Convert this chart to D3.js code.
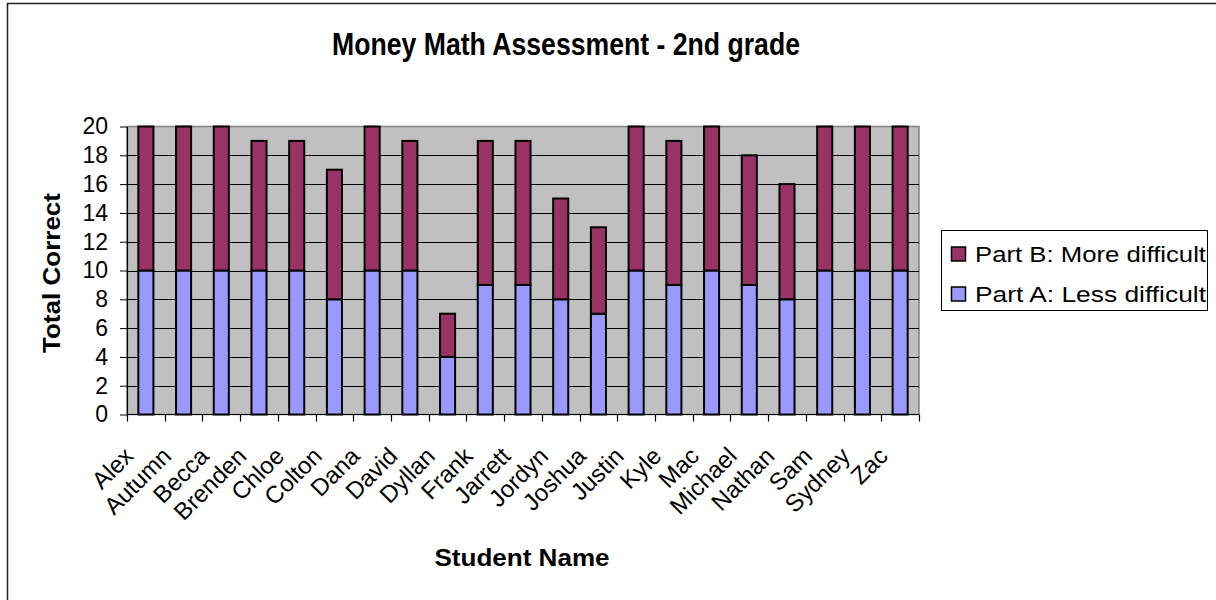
<!DOCTYPE html>
<html><head><meta charset="utf-8">
<script src="https://cdn.jsdelivr.net/npm/d3@7"></script>
<style>html,body{margin:0;padding:0;background:#fff;}svg{display:block;font-family:Arial,"Liberation Sans",sans-serif;}</style>
</head><body>
<svg id="chart" width="1216" height="600"></svg>
<script>
const students = ["Alex","Autumn","Becca","Brenden","Chloe","Colton","Dana","David","Dyllan","Frank","Jarrett","Jordyn","Joshua","Justin","Kyle","Mac","Michael","Nathan","Sam","Sydney","Zac"];
const partA = [10,10,10,10,10,8,10,10,4,9,9,8,7,10,9,10,9,8,10,10,10];
const partB = [10,10,10,9,9,9,10,9,3,10,10,7,6,10,10,10,9,8,10,10,10];
const yTicks = [0,2,4,6,8,10,12,14,16,18,20];
const seriesNames = ["Part A: Less difficult","Part B: More difficult"];
const colors = ["#9999FF","#993366"];

const svg = d3.select("#chart");
// outer chart border
svg.append("rect").attr("x",7.5).attr("y",3.5).attr("width",1300).attr("height",700)
  .attr("fill","#fff").attr("stroke","#222").attr("stroke-width",1.5);

const L=127, R=919, T=126.5, B=414.5;
const x = d3.scaleBand().domain(students).range([L,R]).paddingInner(0.6).paddingOuter(0.3);
const xEdges = d3.scaleBand().domain(students).range([L,R]).padding(0);
const y = d3.scaleLinear().domain([0,20]).range([B,T]);

// plot area
svg.append("rect").attr("x",L).attr("y",T).attr("width",R-L).attr("height",B-T)
  .attr("fill","#C0C0C0").attr("stroke","#808080").attr("stroke-width",1.5);
// gridlines
svg.append("g").selectAll("line").data(yTicks.filter(d=>d>0&&d<20)).join("line")
  .attr("x1",L).attr("x2",R).attr("y1",d=>Math.round(y(d))+0.5).attr("y2",d=>Math.round(y(d))+0.5)
  .attr("stroke","#000").attr("stroke-width",1);

// stacked bars
const stackData = students.map((s,i)=>({name:s,a:partA[i],b:partB[i]}));
const stack = d3.stack().keys(["a","b"])(stackData);
svg.append("g").selectAll("g").data(stack).join("g").attr("fill",(d,i)=>colors[i])
  .selectAll("rect").data(d=>d).join("rect")
  .attr("x",d=>x(d.data.name)).attr("width",x.bandwidth())
  .attr("y",d=>y(d[1])).attr("height",d=>y(d[0])-y(d[1]))
  .attr("stroke","#000").attr("stroke-width",2);

// y axis
const yAxis = svg.append("g").attr("transform",`translate(${L},0)`)
  .call(d3.axisLeft(y).tickValues(yTicks).tickSize(7).tickPadding(12).tickSizeOuter(0));
yAxis.select(".domain").attr("stroke","#000").attr("stroke-width",1.2);
yAxis.selectAll(".tick line").attr("stroke","#000");
yAxis.selectAll("text").attr("font-size",23).attr("font-family","Arial, 'Liberation Sans', sans-serif").attr("fill","#000");

// x axis line + ticks at category boundaries
svg.append("line").attr("x1",L).attr("x2",R).attr("y1",B).attr("y2",B).attr("stroke","#000").attr("stroke-width",1.2);
const edges = students.map(s=>xEdges(s)).concat([R]);
svg.append("g").selectAll("line").data(edges).join("line")
  .attr("x1",d=>Math.round(d)+0.5).attr("x2",d=>Math.round(d)+0.5).attr("y1",B).attr("y2",B+7)
  .attr("stroke","#000").attr("stroke-width",1.2);

// category labels
svg.append("g").selectAll("text").data(students).join("text")
  .attr("transform",d=>`translate(${x(d)+x.bandwidth()/2-11},${B+43}) rotate(-45)`)
  .attr("text-anchor","end").attr("font-size",24).attr("fill","#000").text(d=>d);

// title
svg.append("text").attr("x",566).attr("y",55).attr("text-anchor","middle")
  .attr("font-size",31).attr("font-weight","bold").attr("textLength",468).attr("lengthAdjust","spacingAndGlyphs")
  .text("Money Math Assessment - 2nd grade");
// axis titles
svg.append("text").attr("x",522).attr("y",566).attr("text-anchor","middle")
  .attr("font-size",24).attr("font-weight","bold").attr("textLength",175).attr("lengthAdjust","spacingAndGlyphs")
  .text("Student Name");
svg.append("text").attr("transform","translate(60,273) rotate(-90)").attr("text-anchor","middle")
  .attr("font-size",24).attr("font-weight","bold").attr("textLength",160).attr("lengthAdjust","spacingAndGlyphs")
  .text("Total Correct");

// legend
const lg = svg.append("g");
lg.append("rect").attr("x",941.5).attr("y",230.5).attr("width",266).attr("height",80)
  .attr("fill","#fff").attr("stroke","#000").attr("stroke-width",1);
const legendItems = [{n:seriesNames[1],c:colors[1],yy:254},{n:seriesNames[0],c:colors[0],yy:294}];
legendItems.forEach(it=>{
  lg.append("rect").attr("x",951.5).attr("y",it.yy-7).attr("width",14).attr("height",14)
    .attr("fill",it.c).attr("stroke","#000").attr("stroke-width",1.5);
  lg.append("text").attr("x",975).attr("y",it.yy+7.5).attr("font-size",22).attr("fill","#000")
    .attr("textLength",231).attr("lengthAdjust","spacingAndGlyphs").text(it.n);
});
</script>
</body></html>
